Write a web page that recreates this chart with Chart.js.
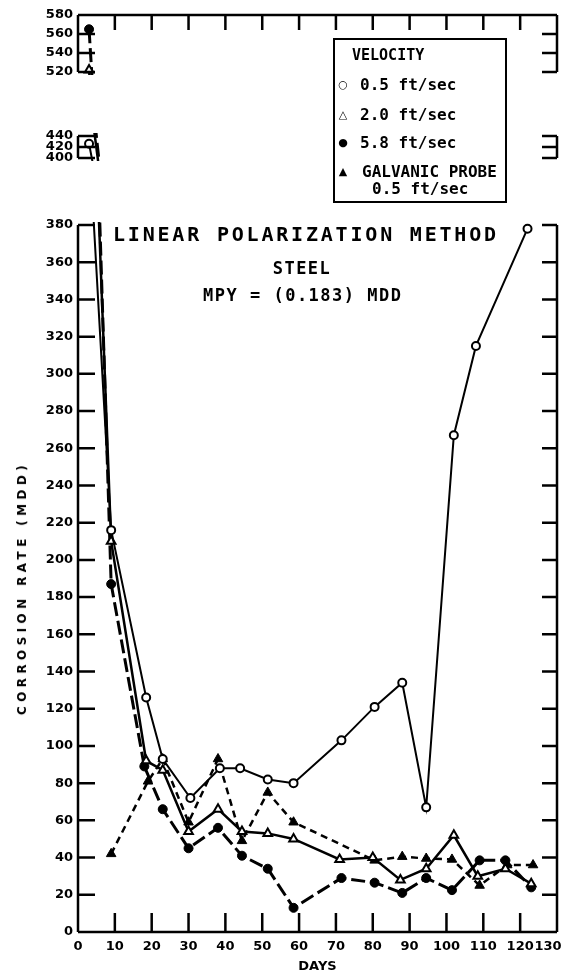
<!DOCTYPE html>
<html>
<head>
	<meta charset="utf-8">
	<title>Linear Polarization Method</title>
	<script src="https://cdn.jsdelivr.net/npm/chart.js"></script>
	<style>
		body { margin: 0; background: #fff; }
		#page { position: relative; width: 567px; height: 977px; overflow: hidden; background: #fff; }
		#page canvas { position: absolute; left: 0; }
		.txt { position: absolute; white-space: nowrap; color: #000; font-family: 'DejaVu Sans Mono', monospace; font-weight: bold; }
		#legend { position: absolute; left: 333px; top: 38px; width: 170px; height: 161px; border: 2px solid #000; }
		.mark { position: absolute; width: 14px; text-align: center; font: 11px 'DejaVu Sans'; line-height: 20px; }
		#ytitle { position: absolute; left: 22px; top: 588px; transform: translate(-50%, -50%) rotate(-90deg);
			white-space: nowrap; font: bold 12px 'DejaVu Sans'; letter-spacing: 4.4px; }
	</style>
</head>
<body>
<div id="page">
	<canvas id="chartA" width="567" height="122" style="top:5px"></canvas>
	<canvas id="chartB" width="567" height="87" style="top:126px"></canvas>
	<canvas id="chartC" width="567" height="762" style="top:215px"></canvas>

	<div id="legend"></div>
	<div class="txt" style="left:352px;top:45px;font-size:15px;line-height:20px">VELOCITY</div>
	<div class="mark" style="left:336px;top:75px">&#9675;</div>
	<div class="txt" style="left:360px;top:75px;font-size:16px;line-height:20px">0.5 ft/sec</div>
	<div class="mark" style="left:336px;top:105px">&#9651;</div>
	<div class="txt" style="left:360px;top:105px;font-size:16px;line-height:20px">2.0 ft/sec</div>
	<div class="mark" style="left:336px;top:133px">&#9679;</div>
	<div class="txt" style="left:360px;top:133px;font-size:16px;line-height:20px">5.8 ft/sec</div>
	<div class="mark" style="left:336px;top:162px">&#9650;</div>
	<div class="txt" style="left:362px;top:162px;font-size:16px;line-height:20px">GALVANIC PROBE</div>
	<div class="txt" style="left:372px;top:179px;font-size:16px;line-height:20px">0.5 ft/sec</div>

	<div class="txt" style="left:113px;top:222px;font-size:20px;line-height:24px;letter-spacing:2.8px">LINEAR POLARIZATION METHOD</div>
	<div class="txt" style="left:202px;width:200px;text-align:center;top:257px;font-size:17px;line-height:22px;letter-spacing:1.5px">STEEL</div>
	<div class="txt" style="left:203px;top:284px;font-size:17px;line-height:22px;letter-spacing:1.5px">MPY = (0.183) MDD</div>
	<div id="ytitle">CORROSION RATE (MDD)</div>
</div>

<script type="text/javascript">

	// days and corrosion rate (MDD)
	var days05 = [3, 9, 18.5, 23, 30.5, 38.5, 44, 51.5, 58.5, 71.5, 80.5, 88, 94.5, 102, 108, 122];
	var mdd05 = [426, 216, 126, 93, 72, 88, 88, 82, 80, 103, 121, 134, 67, 267, 315, 378];

	var days20 = [3, 9, 18.5, 23, 30, 38, 44.5, 51.5, 58.5, 71, 80, 87.5, 94.5, 102, 108.5, 116, 123];
	var mdd20 = [522, 210, 92, 87, 54, 66, 54, 53, 50, 39, 40, 28, 34, 52, 30, 34, 26];

	var days58 = [3, 9, 18, 23, 30, 38, 44.5, 51.5, 58.5, 71.5, 80.5, 88, 94.5, 101.5, 109, 116, 123];
	var mdd58 = [565, 187, 89, 66, 45, 56, 41, 34, 13, 29, 26.5, 21, 29, 22.5, 38.5, 38.5, 24];

	var daysGalv = [9, 19, 23, 30, 38, 44.5, 51.5, 58.5, 80.5, 88, 94.5, 101.5, 109, 116.5, 123.5];
	var mddGalv = [42, 81, 93, 59, 93, 49, 75, 59, 38.5, 40.5, 39.5, 39, 25, 36, 36];

	var dayTicks = [0, 10, 20, 30, 40, 50, 60, 70, 80, 90, 100, 110, 120, 130];

	function pairs(xs, ys) {
		return xs.map(function(d, i) { return { x: d, y: ys[i] }; });
	}

	function makeDatasets() {
		return [
			{
				label: '0.5 ft/sec',
				data: pairs(days05, mdd05),
				borderColor: '#000', borderWidth: 2,
				pointStyle: 'circle', pointRadius: 4, pointBorderWidth: 2,
				pointBackgroundColor: '#fff', pointBorderColor: '#000',
				clip: 3
			},
			{
				label: '2.0 ft/sec',
				data: pairs(days20, mdd20),
				borderColor: '#000', borderWidth: 2.5,
				pointStyle: 'triangle', pointRadius: 5, pointBorderWidth: 2,
				pointBackgroundColor: '#fff', pointBorderColor: '#000',
				clip: 3
			},
			{
				label: '5.8 ft/sec',
				data: pairs(days58, mdd58),
				borderColor: '#000', borderWidth: 3, borderDash: [14, 5],
				pointStyle: 'circle', pointRadius: 4.5, pointBorderWidth: 1,
				pointBackgroundColor: '#000', pointBorderColor: '#000',
				clip: 3
			},
			{
				label: 'GALVANIC PROBE 0.5 ft/sec',
				data: pairs(daysGalv, mddGalv),
				borderColor: '#000', borderWidth: 2.5, borderDash: [7, 5],
				pointStyle: 'triangle', pointRadius: 5.5, pointBorderWidth: 1,
				pointBackgroundColor: '#000', pointBorderColor: '#000',
				clip: 3
			}
		];
	}

	// axis frame with inward ticks, drawn from the scales
	var framePlugin = {
		id: 'frame',
		afterDatasetsDraw: function(chart, args, opts) {
			var ctx = chart.ctx, a = chart.chartArea;
			var xs = chart.scales.x, ys = chart.scales.y;
			ctx.save();
			ctx.strokeStyle = '#000';
			ctx.lineWidth = 2.5;
			ctx.setLineDash([]);
			ctx.beginPath();
			ctx.moveTo(a.left, a.top); ctx.lineTo(a.left, a.bottom);
			ctx.moveTo(a.right, a.top); ctx.lineTo(a.right, a.bottom);
			ys.ticks.forEach(function(t) {
				var py = ys.getPixelForValue(t.value);
				ctx.moveTo(a.left, py); ctx.lineTo(a.left + 17, py);
				ctx.moveTo(a.right, py); ctx.lineTo(a.right - 15, py);
			});
			var inner = dayTicks.slice(1, -1);
			if (opts.top) {
				ctx.moveTo(a.left, a.top); ctx.lineTo(a.right, a.top);
				inner.forEach(function(d) {
					var px = xs.getPixelForValue(d);
					ctx.moveTo(px, a.top); ctx.lineTo(px, a.top + 15);
				});
			}
			if (opts.bottom) {
				ctx.moveTo(a.left, a.bottom); ctx.lineTo(a.right, a.bottom);
				inner.forEach(function(d) {
					var px = xs.getPixelForValue(d);
					ctx.moveTo(px, a.bottom); ctx.lineTo(px, a.bottom - 19);
				});
			}
			ctx.stroke();
			ctx.restore();
		}
	};

	var tickFont = { family: 'DejaVu Sans', size: 13, weight: 'bold' };

	function makeChart(id, yMin, yMax, bottomAxis, topFrame) {
		var config = {
			type: 'line',
			data: { datasets: makeDatasets() },
			options: {
				responsive: false,
				animation: false,
				devicePixelRatio: 1,
				layout: { padding: { left: 0, right: 10, top: 10, bottom: bottomAxis ? 0 : 10 } },
				plugins: {
					legend: { display: false },
					tooltip: { enabled: false },
					frame: { top: topFrame, bottom: bottomAxis }
				},
				scales: {
					x: {
						type: 'linear',
						min: 0, max: 130,
						display: bottomAxis,
						grid: { display: false, drawTicks: false },
						border: { display: false },
						afterBuildTicks: function(s) {
							s.ticks = dayTicks.map(function(v) { return { value: v }; });
						},
						ticks: {
							color: '#000', font: tickFont, padding: 7, maxRotation: 0, autoSkip: false,
							callback: function(v) { return v === 130 ? '130    ' : String(v); }
						},
						title: {
							display: bottomAxis, text: 'DAYS', color: '#000',
							font: { family: 'DejaVu Sans', size: 13, weight: 'bold' },
							padding: { top: 0, bottom: 3 }
						},
						afterFit: function(s) {
							s.height = 45;
							s.paddingLeft = 0; s.paddingRight = 0;
						}
					},
					y: {
						type: 'linear',
						min: yMin, max: yMax,
						grid: { display: false, drawTicks: false },
						border: { display: false },
						ticks: { stepSize: 20, color: '#000', font: tickFont, padding: 5, autoSkip: false },
						afterFit: function(s) {
							s.width = 78;
							s.paddingTop = 0; s.paddingBottom = 0;
						}
					}
				}
			},
			plugins: [framePlugin]
		};
		var ctx = document.getElementById(id).getContext('2d');
		return new Chart(ctx, config);
	}

	var chartA = makeChart('chartA', 520, 580, false, true);
	var chartB = makeChart('chartB', 400, 440, false, false);
	var chartC = makeChart('chartC', 0, 380, true, false);

</script>
</body>
</html>
